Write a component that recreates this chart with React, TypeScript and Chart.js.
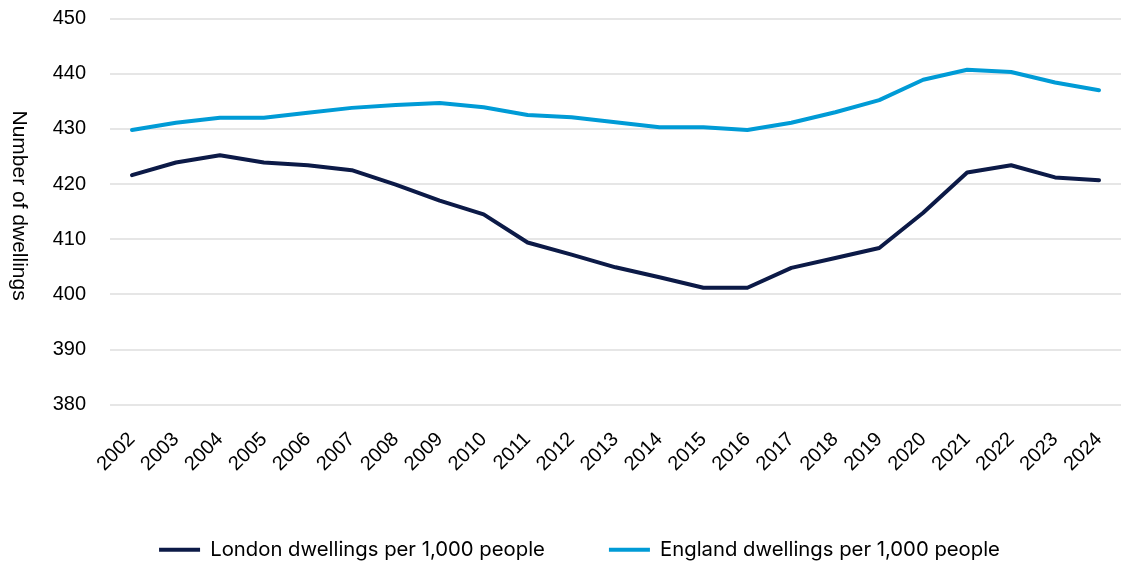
import React, { useEffect, useRef } from "react";
import { Chart, registerables } from "chart.js";

Chart.register(...registerables);

const years = [
  "2002", "2003", "2004", "2005", "2006", "2007", "2008", "2009", "2010", "2011", "2012",
  "2013", "2014", "2015", "2016", "2017", "2018", "2019", "2020", "2021", "2022", "2023", "2024",
];

const londonPer1000 = [
  421.6, 423.9, 425.2, 423.9, 423.4, 422.5, 419.9, 417.0, 414.5, 409.4, 407.2,
  404.9, 403.1, 401.2, 401.2, 404.8, 406.6, 408.4, 414.8, 422.1, 423.4, 421.2, 420.7,
];

const englandPer1000 = [
  429.8, 431.1, 432.0, 432.0, 432.9, 433.8, 434.3, 434.7, 433.9, 432.5, 432.1,
  431.2, 430.3, 430.3, 429.8, 431.1, 433.0, 435.2, 438.9, 440.7, 440.3, 438.4, 437.0,
];

const seriesLabels = [
  "London dwellings per 1,000 people",
  "England dwellings per 1,000 people",
];

const yAxisTitle = "Number of dwellings";

const LONDON_COLOUR = "#0c1a47";
const ENGLAND_COLOUR = "#009bd6";
const GRID_COLOUR = "#e6e6e6";
const TICK_FONT = "'Liberation Sans', Arial, sans-serif";

// Vertical axis title, written top-to-bottom beside the value ticks.
const sideTitlePlugin = {
  id: "sideTitle",
  afterDraw(chart: Chart) {
    const { ctx, chartArea } = chart;
    ctx.save();
    ctx.font = `21px ${TICK_FONT}`;
    ctx.fillStyle = "#000000";
    ctx.textAlign = "center";
    ctx.textBaseline = "middle";
    ctx.translate(19, (chartArea.top + chartArea.bottom) / 2 - 6);
    ctx.rotate(Math.PI / 2);
    ctx.fillText(yAxisTitle, 0, 0);
    ctx.restore();
  },
};

export default function App() {
  const canvasRef = useRef<HTMLCanvasElement | null>(null);

  useEffect(() => {
    document.body.style.margin = "0";
    const canvas = canvasRef.current;
    if (!canvas) return;

    const chart = new Chart(canvas, {
      type: "line",
      data: {
        labels: years,
        datasets: [
          {
            label: seriesLabels[0],
            data: londonPer1000,
            borderColor: LONDON_COLOUR,
            backgroundColor: LONDON_COLOUR,
            borderWidth: 4,
            borderCapStyle: "round",
            borderJoinStyle: "round",
            pointRadius: 0,
            tension: 0,
          },
          {
            label: seriesLabels[1],
            data: englandPer1000,
            borderColor: ENGLAND_COLOUR,
            backgroundColor: ENGLAND_COLOUR,
            borderWidth: 4,
            borderCapStyle: "round",
            borderJoinStyle: "round",
            pointRadius: 0,
            tension: 0,
          },
        ],
      },
      options: {
        animation: false,
        responsive: false,
        maintainAspectRatio: false,
        layout: { padding: { top: 18.5, left: 38, right: 0, bottom: -8 } },
        plugins: {
          tooltip: { enabled: false },
          legend: {
            position: "bottom",
            labels: {
              usePointStyle: true,
              pointStyle: "line",
              pointStyleWidth: 41,
              padding: 64,
              color: "#000000",
              font: { family: "Inter, 'Noto Sans', sans-serif", size: 20.3 },
            },
          },
        },
        scales: {
          x: {
            offset: true,
            grid: { display: false },
            border: { display: false },
            ticks: {
              minRotation: 45,
              maxRotation: 45,
              autoSkip: false,
              padding: 15,
              color: "#000000",
              font: { family: TICK_FONT, size: 20 },
            },
            afterFit(scale: any) {
              scale.height = 71;
              scale.paddingLeft = 0;
              scale.paddingRight = 0;
            },
          },
          y: {
            min: 380,
            max: 450,
            grid: { color: GRID_COLOUR, lineWidth: 2, drawTicks: false },
            border: { display: false },
            ticks: {
              stepSize: 10,
              padding: 24,
              color: "#000000",
              font: { family: TICK_FONT, size: 20 },
            },
            afterFit(scale: any) {
              scale.width = 72;
              scale.paddingTop = 0;
              scale.paddingBottom = 0;
            },
          },
        },
      },
      plugins: [sideTitlePlugin],
    });

    return () => chart.destroy();
  }, []);

  return <canvas ref={canvasRef} width={1121} height={562} style={{ display: "block" }} />;
}
